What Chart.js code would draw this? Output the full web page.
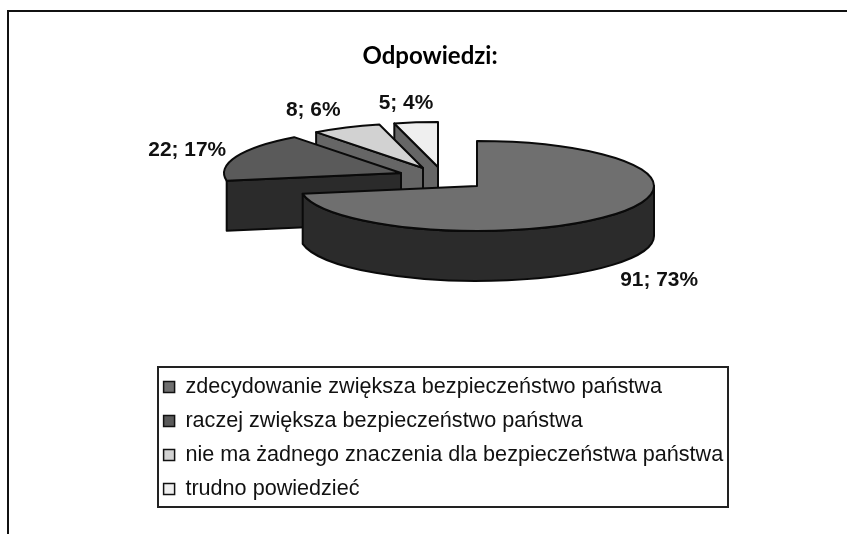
<!DOCTYPE html>
<html>
<head>
<meta charset="utf-8">
<script src="https://cdn.jsdelivr.net/npm/chart.js@4"></script>
<style>
  html, body { margin: 0; padding: 0; background: #fff; overflow: hidden; }
  #wrap { position: relative; width: 847px; height: 534px; }
  #frame { position: absolute; left: 7px; top: 10px; right: 0; bottom: 0; border-left: 2px solid #111; border-top: 2px solid #111; }
  #myChart { position: absolute; left: 0; top: 0; }
</style>
</head>
<body>
<div id="wrap">
  <div id="frame"></div>
  <canvas id="myChart" width="847" height="534"></canvas>
</div>
<script>
const categories = [
  'zdecydowanie zwiększa bezpieczeństwo państwa',
  'raczej zwiększa bezpieczeństwo państwa',
  'nie ma żadnego znaczenia dla bezpieczeństwa państwa',
  'trudno powiedzieć'
];
const counts = [91, 22, 8, 5];
const percents = [73, 17, 6, 4];

// 3D look
const topColors = ['#6f6f6f', '#5a5a5a', '#d2d2d2', '#efefef'];
const cutColors = ['#2b2b2b', '#2b2b2b', '#666666', '#666666'];
const sideColor = '#2b2b2b';
const squash = 0.254; // ellipse height / width
const depth = 50;
const explode = [[47, 11], [-29, -2], [-7, -7], [8, -8]]; // pull-out of each slice
const labelShift = [[46.5, 65], [-49, -6], [-33, -17], [-10, -19]];

const pie3d = {
  id: 'pie3d',
  afterLayout(chart) {
    // legend sits under the pie, not in the chart area
    const legend = chart.legend;
    legend.left = 151.2; legend.right = 735; legend.top = 363.8; legend.bottom = 530;
    legend.width = 584; legend.height = 166;
  },
  beforeDatasetsDraw(chart) {
    const ctx = chart.ctx;
    const arcs = chart.getDatasetMeta(0).data;

    // legend border
    ctx.save();
    ctx.strokeStyle = '#222';
    ctx.lineWidth = 2;
    ctx.strokeRect(158, 367, 570, 140);
    ctx.restore();

    ctx.lineWidth = 2;
    ctx.strokeStyle = '#0a0a0a';
    ctx.lineJoin = 'round';

    // back slices first
    for (let i = arcs.length - 1; i >= 0; i--) {
      const a = arcs[i];
      const cx = a.x + explode[i][0];
      const cy = a.y + explode[i][1];
      const rx = a.outerRadius;
      const ry = rx * squash;
      const sx = cx + Math.cos(a.startAngle) * rx;
      const sy = cy + Math.sin(a.startAngle) * ry;

      // cut face at the start of the slice
      if (-Math.cos(a.startAngle) > 0.001) {
        ctx.beginPath();
        ctx.moveTo(cx, cy);
        ctx.lineTo(sx, sy);
        ctx.lineTo(sx, sy + depth);
        ctx.lineTo(cx, cy + depth);
        ctx.closePath();
        ctx.fillStyle = cutColors[i];
        ctx.fill();
        ctx.stroke();
      }

      // outer wall, only the front half of the ellipse shows
      const a0 = Math.max(a.startAngle, 0);
      const a1 = Math.min(a.endAngle, Math.PI);
      if (a1 - a0 > 0.3) {
        ctx.beginPath();
        ctx.ellipse(cx, cy, rx, ry, 0, a0, a1);
        ctx.ellipse(cx, cy + depth, rx, ry, 0, a1, a0, true);
        ctx.closePath();
        ctx.fillStyle = sideColor;
        ctx.fill();
        ctx.stroke();
      }

      // top
      ctx.beginPath();
      ctx.moveTo(cx, cy);
      ctx.ellipse(cx, cy, rx, ry, 0, a.startAngle, a.endAngle);
      ctx.closePath();
      ctx.fillStyle = topColors[i];
      ctx.fill();
      ctx.stroke();
    }

    // value labels
    ctx.fillStyle = '#111';
    ctx.font = 'bold 20.9px "Liberation Sans"';
    ctx.textAlign = 'center';
    ctx.textBaseline = 'middle';
    arcs.forEach((a, i) => {
      const mid = (a.startAngle + a.endAngle) / 2;
      const px = a.x + explode[i][0] + Math.cos(mid) * a.outerRadius;
      const py = a.y + explode[i][1] + Math.sin(mid) * a.outerRadius * squash;
      ctx.fillText(counts[i] + '; ' + percents[i] + '%', px + labelShift[i][0], py + labelShift[i][1]);
    });
    return false;
  }
};

const ctx = document.getElementById('myChart').getContext('2d');

new Chart(ctx, {
  type: 'pie',
  data: {
    labels: categories,
    datasets: [{
      data: counts,
      backgroundColor: topColors,
      borderColor: '#111',
      borderWidth: 1.5,
      radius: 177
    }]
  },
  options: {
    responsive: false,
    animation: false,
    events: [],
    layout: { padding: { left: 13, right: 0, top: 0, bottom: 259 } },
    plugins: {
      title: {
        display: true,
        text: 'Odpowiedzi:',
        color: '#000',
        font: { family: 'Lato', size: 24, weight: 'bold', lineHeight: 1 },
        padding: { top: 44, bottom: 7 }
      },
      legend: {
        position: 'chartArea',
        align: 'start',
        labels: {
          color: '#111',
          boxWidth: 11,
          boxHeight: 11,
          padding: 12.4,
          font: { family: '"Liberation Sans"', size: 21.6 }
        }
      },
      tooltip: { enabled: false }
    }
  },
  plugins: [pie3d]
});
</script>
</body>
</html>
